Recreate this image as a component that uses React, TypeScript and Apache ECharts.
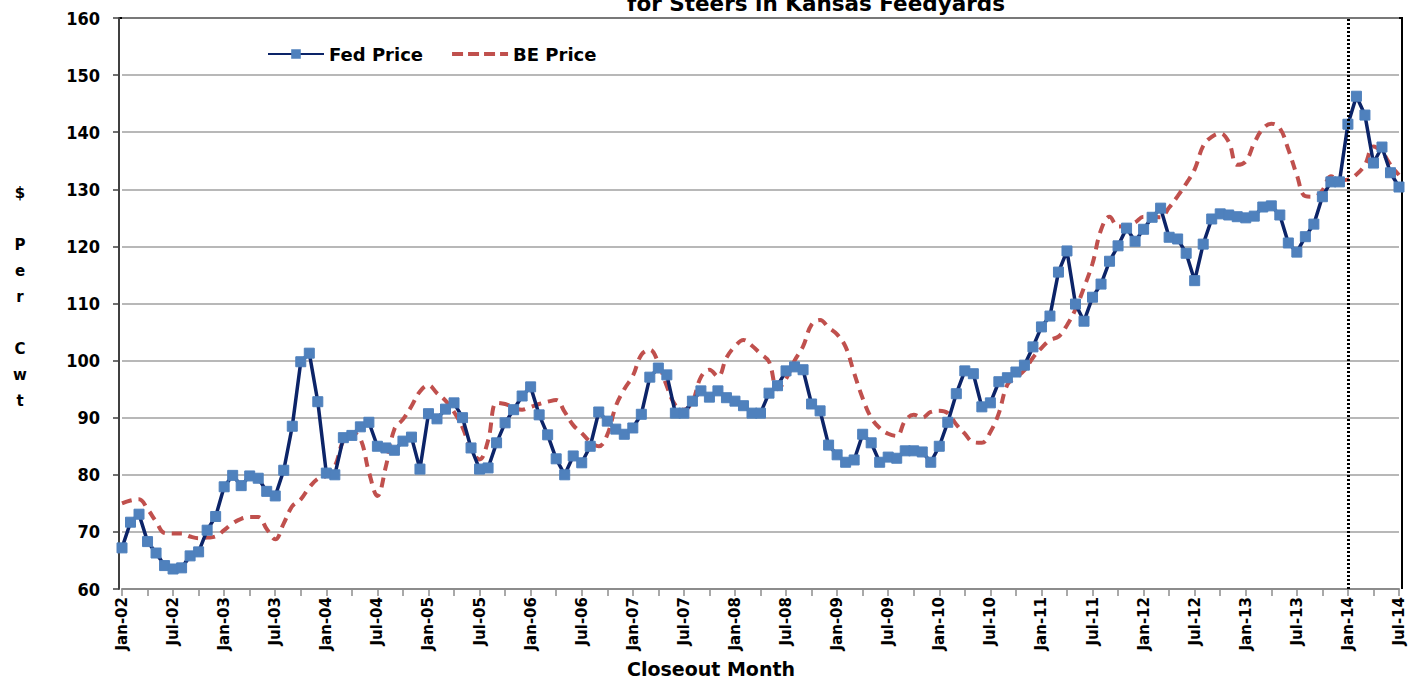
import React, { useEffect, useRef } from "react";
import * as echarts from "echarts";

const monthNames = ["Jan", "Feb", "Mar", "Apr", "May", "Jun", "Jul", "Aug", "Sep", "Oct", "Nov", "Dec"];
const yearLabels = ["02", "03", "04", "05", "06", "07", "08", "09", "10", "11", "12", "13", "14"];
const categories: string[] = yearLabels
  .flatMap((y) => monthNames.map((m) => `${m}-${y}`))
  .slice(0, 151);

const fedPrice = [
  67.2, 71.7, 73.1, 68.3, 66.3, 64.1, 63.5, 63.7, 65.8, 66.5, 70.3, 72.7,
  77.9, 79.9, 78.1, 79.8, 79.4, 77.1, 76.3, 80.8, 88.5, 99.8, 101.3, 92.8,
  80.3, 80.0, 86.5, 86.9, 88.4, 89.2, 85.0, 84.7, 84.3, 85.9, 86.6, 81.0,
  90.7, 89.8, 91.5, 92.6, 90.0, 84.7, 81.0, 81.2, 85.6, 89.1, 91.4, 93.8,
  95.4, 90.5, 87.0, 82.8, 80.0, 83.3, 82.1, 85.0, 91.0, 89.4, 88.0, 87.1,
  88.2, 90.6, 97.1, 98.7, 97.5, 90.8, 90.8, 92.9, 94.7, 93.6, 94.7, 93.5,
  92.9, 92.1, 90.8, 90.8, 94.3, 95.6, 98.2, 98.9, 98.4, 92.4, 91.2, 85.2,
  83.5, 82.2, 82.6, 87.1, 85.6, 82.2, 83.1, 82.9, 84.2, 84.2, 84.0, 82.2,
  85.0, 89.2, 94.2, 98.2, 97.7, 91.9, 92.6, 96.3, 97.0, 98.0, 99.2, 102.4,
  105.9, 107.8, 115.5, 119.2, 109.9, 106.9, 111.1, 113.4, 117.4, 120.1, 123.2, 120.9,
  123.0, 125.1, 126.7, 121.6, 121.3, 118.8, 114.0, 120.4, 124.8, 125.7, 125.5, 125.2,
  125.0, 125.3, 126.9, 127.1, 125.5, 120.6, 119.0, 121.7, 123.9, 128.7, 131.3, 131.3,
  141.4, 146.3, 143.0, 134.6, 137.4, 132.9, 130.4,
];

const bePrice = [
  75.0, 75.5, 75.7, 74.0, 71.8, 69.8, 69.7, 69.7, 69.2, 68.9, 69.0, 69.2,
  70.3, 71.5, 72.3, 72.6, 72.6, 70.5, 68.7, 71.5, 74.5, 75.7, 77.8, 79.3,
  79.8, 81.5, 86.0, 87.4, 86.3, 80.5, 76.3, 81.5, 88.0, 89.7, 92.0, 94.6,
  95.7, 94.3, 93.0, 91.0, 88.3, 84.5, 82.7, 86.0, 92.6, 92.4, 91.8, 91.4,
  91.9, 92.4, 92.8, 93.1, 91.0, 88.7, 87.3, 85.8, 85.0, 87.0, 92.0, 95.0,
  97.3, 101.0, 101.9, 99.6, 95.5, 92.2, 91.4, 92.8, 97.1, 98.4, 97.2, 100.5,
  102.5, 103.6, 102.6, 101.2, 99.8, 95.0, 96.8, 100.0, 102.5, 106.3, 107.1, 105.8,
  104.6, 102.4, 97.8, 93.4, 90.0, 88.2, 87.2, 86.8, 89.5, 90.5, 90.0, 91.0,
  91.2, 90.8, 88.8, 87.2, 85.7, 85.6, 87.5, 90.8, 95.8, 97.0, 98.3, 100.5,
  102.2, 103.6, 104.2, 106.2, 109.0, 112.8, 117.0, 122.9, 125.2, 123.5, 123.6, 124.2,
  125.2, 125.2, 125.1, 126.8, 128.8, 131.0, 133.5, 137.6, 139.2, 139.8, 138.3, 134.3,
  134.9, 138.1, 140.6, 141.5, 140.7, 137.0, 132.5, 128.8, 128.7, 129.8, 132.3, 131.6,
  131.7, 132.6, 134.3, 137.5, 136.5, 134.3, 132.5,
];

const yTicks = { min: 60, max: 160, interval: 10 };
const markerMonth = "Jan-14";

export default function App() {
  const ref = useRef<HTMLDivElement>(null);

  useEffect(() => {
    document.body.style.margin = "0";
    if (!ref.current) return;
    const chart = echarts.init(ref.current, null, { renderer: "svg" });
    const boldFont = "'DejaVu Sans', Verdana, sans-serif";
    chart.setOption({
      animation: false,
      backgroundColor: "#ffffff",
      grid: { left: 122, right: 11, top: 18, bottom: 93, containLabel: false },
      legend: {
        left: 262,
        top: 40,
        itemWidth: 56,
        itemHeight: 12,
        itemGap: 27,
        textStyle: { fontFamily: boldFont, fontWeight: "bold", fontSize: 18, color: "#000" },
        data: [
          { name: "Fed Price" },
          {
            name: "BE Price",
            itemStyle: { opacity: 0 },
            lineStyle: { width: 4, type: [11, 5], color: "#c0504d" },
          },
        ],
      },
      xAxis: {
        type: "category",
        data: categories,
        boundaryGap: false,
        axisLine: { lineStyle: { color: "#8c8c8c", width: 2 } },
        axisTick: { show: true, interval: 2, length: 7, lineStyle: { color: "#8c8c8c", width: 1.5 } },
        axisLabel: {
          interval: 5,
          rotate: 90,
          margin: 8,
          color: "#000",
          fontFamily: boldFont,
          fontWeight: "bold",
          fontSize: 15,
          padding: [14, 0, 0, 0],
        },
        splitLine: { show: false },
      },
      yAxis: {
        type: "value",
        min: yTicks.min,
        max: yTicks.max,
        interval: yTicks.interval,
        offset: 3,
        axisLine: { show: true, lineStyle: { color: "#404040", width: 2 } },
        axisTick: { show: true, length: 6, lineStyle: { color: "#404040", width: 1.5 } },
        axisLabel: {
          margin: 19,
          color: "#000",
          fontFamily: "'Liberation Sans Narrow', 'DejaVu Sans Condensed', 'Liberation Sans', sans-serif",
          fontWeight: "bold",
          fontSize: 18,
        },
        splitLine: { show: true, lineStyle: { color: "#a0a0a0", width: 1.5 } },
      },
      graphic: [
        {
          type: "polyline",
          shape: { points: [[119, 18], [1402, 18], [1402, 589]] },
          style: { stroke: "#000", lineWidth: 2, fill: "none" },
          silent: true,
        },
        {
          type: "text",
          x: 816,
          y: 14,
          style: {
            text: "for Steers in Kansas Feedyards",
            fontFamily: boldFont,
            fontWeight: "bold",
            fontSize: 21.5,
            fill: "#000",
            align: "center",
            verticalAlign: "bottom",
          },
        },
        {
          type: "text",
          x: 20,
          y: 180,
          style: {
            text: "$\n\nP\ne\nr\n\nC\nw\nt",
            fontFamily: boldFont,
            fontWeight: "bold",
            fontSize: 15,
            lineHeight: 26,
            fill: "#000",
            align: "center",
            verticalAlign: "top",
          },
        },
        {
          type: "text",
          x: 711,
          y: 669,
          style: {
            text: "Closeout Month",
            fontFamily: boldFont,
            fontWeight: "bold",
            fontSize: 19,
            fill: "#000",
            align: "center",
            verticalAlign: "middle",
          },
        },
      ],
      series: [
        {
          name: "Fed Price",
          type: "line",
          data: fedPrice,
          symbol: "rect",
          symbolSize: 10,
          showAllSymbol: true,
          lineStyle: { color: "#0c2468", width: 3.5 },
          itemStyle: { color: "#4f81bd", borderColor: "#4f81bd" },
          z: 3,
          markLine: {
            silent: true,
            symbol: ["none", "none"],
            label: { show: false },
            lineStyle: { color: "#000", type: [2, 2], width: 3 },
            data: [{ xAxis: markerMonth }],
          },
        },
        {
          name: "BE Price",
          type: "line",
          data: bePrice,
          smooth: 0.4,
          symbol: "none",
          lineStyle: { color: "#c0504d", width: 4, type: [10, 7] },
          itemStyle: { color: "#c0504d" },
          z: 2,
        },
      ],
    });
    return () => chart.dispose();
  }, []);

  return <div ref={ref} style={{ width: 1410, height: 682 }} />;
}
